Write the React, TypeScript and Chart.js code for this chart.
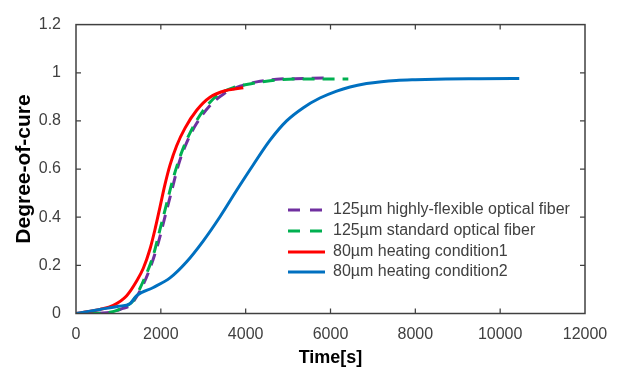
import React, { useEffect, useRef } from "react";
import { Chart, registerables } from "chart.js";

Chart.register(...registerables);

const FONT = '"Liberation Sans", Arial, sans-serif';

// Tick values
const xTickValues = [0, 2000, 4000, 6000, 8000, 10000, 12000];
const yTickValues = [0, 0.2, 0.4, 0.6, 0.8, 1.0, 1.2];

// Series labels & colours
const seriesLabels = [
  "125µm highly-flexible optical fiber",
  "125µm standard optical fiber",
  "80µm heating condition1",
  "80µm heating condition2",
];
const seriesColors = ["#7030A0", "#00B050", "#FF0000", "#0070C0"];
const seriesDashed = [true, true, false, false];

// 125µm highly-flexible optical fiber
const purpleTime = [500, 870, 1085, 1273, 1509, 1745, 1941, 2098, 2255, 2412, 2609, 2845, 3159, 3473, 3866, 4260, 4730, 5360, 5830, 5990];
const purpleCure = [0, 0.007, 0.02, 0.034, 0.094, 0.188, 0.295, 0.402, 0.509, 0.616, 0.71, 0.79, 0.864, 0.911, 0.944, 0.962, 0.973, 0.976, 0.978, 0.977];

// 125µm standard optical fiber
const greenTime = [300, 800, 1000, 1200, 1351, 1587, 1823, 1980, 2137, 2294, 2491, 2727, 3002, 3316, 3709, 4023, 4575, 5200, 5830, 6420];
const greenCure = [0, 0.005, 0.015, 0.032, 0.054, 0.135, 0.242, 0.349, 0.456, 0.563, 0.67, 0.764, 0.844, 0.904, 0.938, 0.951, 0.967, 0.974, 0.974, 0.974];

// 80µm heating condition1
const redTime = [0, 300, 566, 880, 1195, 1430, 1587, 1745, 1862, 1980, 2098, 2216, 2373, 2570, 2845, 3159, 3552, 3944];
const redCure = [0, 0.008, 0.017, 0.034, 0.074, 0.135, 0.188, 0.268, 0.349, 0.442, 0.536, 0.616, 0.697, 0.77, 0.844, 0.898, 0.927, 0.938];

// 80µm heating condition2
const blueTime = [0, 566, 1000, 1273, 1430, 1823, 2216, 2609, 3002, 3395, 3788, 4180, 4575, 4965, 5360, 5750, 6145, 6460, 6850, 7200, 7550, 8000, 8715, 9500, 10450];
const blueCure = [0, 0.017, 0.03, 0.041, 0.074, 0.108, 0.148, 0.215, 0.302, 0.402, 0.512, 0.618, 0.72, 0.8, 0.855, 0.895, 0.924, 0.941, 0.955, 0.963, 0.968, 0.971, 0.974, 0.975, 0.976];

const seriesTimes = [purpleTime, greenTime, redTime, blueTime];
const seriesCures = [purpleCure, greenCure, redCure, blueCure];
const seriesOrder = [3, 2, 1, 0];

const DASH = [12, 8];

const framePlugin = {
  id: "frame",
  beforeDraw(chart: any) {
    const { ctx, width, height } = chart;
    ctx.save();
    ctx.fillStyle = "#ffffff";
    ctx.fillRect(0, 0, width, height);
    ctx.restore();
  },
  afterDatasetsDraw(chart: any) {
    const { ctx, chartArea: a, scales } = chart;
    ctx.save();
    ctx.strokeStyle = "#404040";
    ctx.lineWidth = 1.5;
    ctx.strokeRect(a.left, a.top, a.right - a.left, a.bottom - a.top);
    ctx.lineWidth = 1.25;
    ctx.beginPath();
    xTickValues.slice(1, -1).forEach((v) => {
      const px = scales.x.getPixelForValue(v);
      ctx.moveTo(px, a.bottom);
      ctx.lineTo(px, a.bottom - 5);
      ctx.moveTo(px, a.top);
      ctx.lineTo(px, a.top + 5);
    });
    yTickValues.slice(1, -1).forEach((v) => {
      const py = scales.y.getPixelForValue(v);
      ctx.moveTo(a.left, py);
      ctx.lineTo(a.left + 5, py);
      ctx.moveTo(a.right, py);
      ctx.lineTo(a.right - 5, py);
    });
    ctx.stroke();
    ctx.restore();
  },
  afterDraw(chart: any) {
    const { ctx } = chart;
    ctx.save();
    // Legend
    const rowsY = [210, 231, 252, 272];
    ctx.font = `16px ${FONT}`;
    ctx.textBaseline = "middle";
    ctx.textAlign = "left";
    seriesLabels.forEach((label, i) => {
      const y = rowsY[i];
      ctx.strokeStyle = seriesColors[i];
      ctx.lineWidth = 3;
      ctx.setLineDash(seriesDashed[i] ? [12, 10] : []);
      ctx.beginPath();
      ctx.moveTo(288, y);
      ctx.lineTo(325, y);
      ctx.stroke();
      ctx.setLineDash([]);
      ctx.fillStyle = "#404040";
      ctx.fillText(label, 333, y);
    });
    // Y axis title
    ctx.translate(24, 169);
    ctx.rotate(-Math.PI / 2);
    ctx.font = `bold 21px ${FONT}`;
    ctx.fillStyle = "#000000";
    ctx.textAlign = "center";
    ctx.textBaseline = "middle";
    ctx.fillText("Degree-of-cure", 0, 0);
    ctx.restore();
  },
};

export default function App() {
  const canvasRef = useRef<HTMLCanvasElement | null>(null);

  useEffect(() => {
    const canvas = canvasRef.current;
    if (!canvas) return;
    const datasets = seriesLabels.map((label, i) => ({
      label,
      data: seriesTimes[i].map((t, j) => ({ x: t, y: seriesCures[i][j] })),
      borderColor: seriesColors[i],
      backgroundColor: seriesColors[i],
      borderWidth: 3,
      borderDash: seriesDashed[i] ? DASH : [],
      pointRadius: 0,
      fill: false,
      cubicInterpolationMode: "monotone" as const,
      order: seriesOrder[i],
    }));
    const chart = new Chart(canvas, {
      type: "line",
      data: { datasets },
      options: {
        responsive: false,
        animation: false,
        devicePixelRatio: 1,
        layout: { padding: { left: 0, top: 15, right: 38, bottom: 0 } },
        plugins: {
          legend: { display: false },
          tooltip: { enabled: false },
        },
        scales: {
          x: {
            type: "linear",
            min: 0,
            max: 12000,
            afterFit: (s: any) => {
              s.height = 56.5;
            },
            grid: { display: false, drawTicks: false },
            border: { display: false },
            ticks: {
              stepSize: 2000,
              padding: 11,
              color: "#404040",
              font: { family: FONT, size: 16 },
              maxRotation: 0,
              callback: (v: any) => String(v),
            },
            title: {
              display: true,
              text: "Time[s]",
              color: "#000000",
              font: { family: FONT, size: 18, weight: "bold" },
              padding: { top: 0, bottom: 1 },
            },
          },
          y: {
            type: "linear",
            min: 0,
            max: 1.2,
            afterFit: (s: any) => {
              s.width = 76;
            },
            grid: { display: false, drawTicks: false },
            border: { display: false },
            ticks: {
              stepSize: 0.2,
              padding: 15,
              color: "#404040",
              font: { family: FONT, size: 16 },
              callback: (v: any) => String(Math.round(Number(v) * 10) / 10),
            },
          },
        },
      },
      plugins: [framePlugin],
    });
    return () => chart.destroy();
  }, []);

  return (
    <div style={{ position: "fixed", left: 0, top: 0, width: 623, height: 370, background: "#fff" }}>
      <canvas ref={canvasRef} width={623} height={370} style={{ display: "block", width: 623, height: 370 }} />
    </div>
  );
}
